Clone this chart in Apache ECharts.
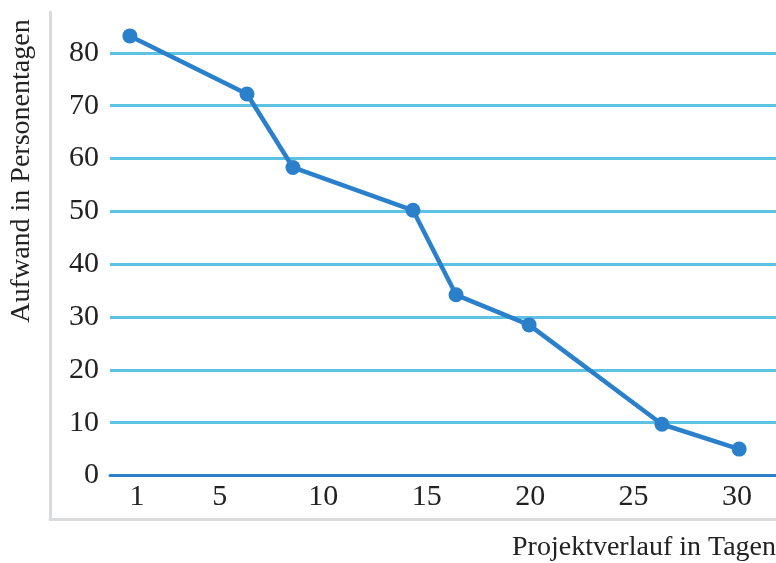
<!DOCTYPE html>
<html>
<head>
<meta charset="utf-8">
<script src="https://cdn.jsdelivr.net/npm/echarts@6/dist/echarts.min.js"></script>
<style>html,body{margin:0;padding:0;background:#fff}#c{width:776px;height:563px}</style>
</head>
<body>
<div id="c"></div>
<script>
var days = [0.66, 6.32, 8.54, 14.34, 16.42, 19.95, 26.37, 30.1];
var effort = [83.2, 72.2, 58.3, 50.2, 34.2, 28.5, 9.7, 5.0];
var xTicks = [1, 5, 10, 15, 20, 25, 30];
var yTitle = 'Aufwand in Personentagen';
var xTitle = 'Projektverlauf in Tagen';

var FONT = 'Liberation Serif';
var chart = echarts.init(document.getElementById('c'), null, {renderer: 'canvas'});
var pts = days.map(function (d, i) { return [d, effort[i]]; });

chart.setOption({
  animation: false,
  backgroundColor: '#fff',
  grid: [
    {left: 110, right: 0, top: 52.8, bottom: 87.5},
    {left: 50, right: 0, top: 12, bottom: 44}
  ],
  xAxis: [
    {
      gridIndex: 0, type: 'value', min: -0.3, max: 31.88,
      axisLine: {show: true, lineStyle: {color: '#2f80c9', width: 3}},
      axisTick: {show: false},
      splitLine: {show: false},
      axisLabel: {customValues: xTicks, color: '#222', fontFamily: FONT, fontSize: 30, margin: 7}
    },
    {
      gridIndex: 1, type: 'value', min: 0, max: 1,
      axisLine: {show: true, onZero: false, lineStyle: {color: '#dadbdd', width: 3}},
      axisTick: {show: false}, axisLabel: {show: false}, splitLine: {show: false}
    }
  ],
  yAxis: [
    {
      gridIndex: 0, type: 'value', min: 0, max: 80, interval: 10,
      axisLine: {show: false}, axisTick: {show: false},
      splitLine: {show: true, lineStyle: {color: '#5ec3e2', width: 3}},
      axisLabel: {color: '#222', fontFamily: FONT, fontSize: 30, margin: 11, padding: [0, 0, 5, 0]}
    },
    {
      gridIndex: 1, type: 'value', min: 0, max: 1,
      axisLine: {show: true, onZero: false, lineStyle: {color: '#dadbdd', width: 3}},
      axisTick: {show: false}, axisLabel: {show: false}, splitLine: {show: false}
    }
  ],
  graphic: [
    {
      type: 'text', x: 22, y: 171, rotation: Math.PI / 2,
      style: {text: yTitle, fill: '#222', font: '28px "Liberation Serif"', align: 'center', verticalAlign: 'middle'}
    },
    {
      type: 'text', right: 0, top: 534,
      style: {text: xTitle, fill: '#222', font: '28px "Liberation Serif"'}
    }
  ],
  series: [{
    type: 'line', xAxisIndex: 0, yAxisIndex: 0, data: pts, clip: false,
    symbol: 'circle', symbolSize: 15,
    lineStyle: {color: '#2b80cc', width: 4.5},
    itemStyle: {color: '#2b80cc'}
  }]
});
</script>
</body>
</html>
